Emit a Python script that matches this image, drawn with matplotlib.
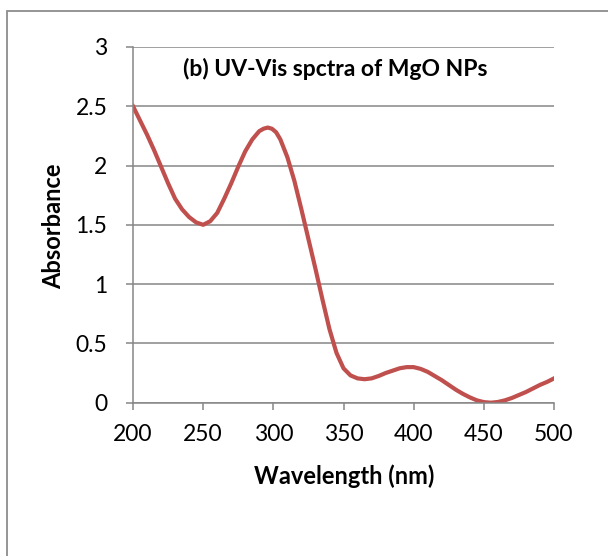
import matplotlib.pyplot as plt
from matplotlib.patches import Rectangle

# absorbance spectrum
wavelength = [200, 205, 210, 215, 220, 225, 230, 235, 240, 245, 250, 255, 260,
              265, 270, 275, 280, 285, 290, 293, 296, 299, 302, 305, 310, 315,
              320, 325, 330, 335, 340, 345, 350, 355, 360, 365, 370, 375, 380,
              385, 390, 395, 400, 405, 410, 415, 420, 425, 430, 435, 440, 445,
              450, 455, 460, 465, 470, 475, 480, 485, 490, 495, 500]
absorbance = [2.50, 2.38, 2.26, 2.13, 1.99, 1.85, 1.72, 1.63, 1.565, 1.52, 1.50,
              1.53, 1.60, 1.72, 1.85, 1.99, 2.12, 2.22, 2.29, 2.31, 2.32, 2.31,
              2.28, 2.22, 2.07, 1.87, 1.63, 1.38, 1.13, 0.87, 0.62, 0.42, 0.29,
              0.23, 0.205, 0.198, 0.205, 0.225, 0.25, 0.27, 0.29, 0.30, 0.30,
              0.285, 0.26, 0.225, 0.19, 0.15, 0.11, 0.075, 0.045, 0.02, 0.005,
              0.0, 0.006, 0.02, 0.04, 0.065, 0.09, 0.12, 0.15, 0.175, 0.205]

xticks = [200, 250, 300, 350, 400, 450, 500]
yticks = [0, 0.5, 1, 1.5, 2, 2.5, 3]
ytick_labels = ["0", "0.5", "1", "1.5", "2", "2.5", "3"]

plt.rcParams['font.family'] = ['Lato', 'DejaVu Sans']
grey = "#868686"

fig = plt.figure(figsize=(6.08, 5.56), dpi=100)
ax = fig.add_axes([133/608, 153.3/556, 421/608, 355.8/556])

ax.plot(wavelength, absorbance, color="#C0504D", lw=3, solid_joinstyle="round")

ax.set_xlim(200, 500)
ax.set_ylim(0, 3)
ax.set_xticks(xticks)
ax.set_yticks(yticks)
ax.set_yticklabels(ytick_labels)
ax.grid(axis="y", color=grey, lw=1.1)
ax.set_axisbelow(True)
for s in ["top", "right"]:
    ax.spines[s].set_visible(False)
for s in ["left", "bottom"]:
    ax.spines[s].set_color(grey)
    ax.spines[s].set_linewidth(1.1)
ax.tick_params(colors=grey, labelcolor="black", labelsize=16.5, length=5,
               width=1.1)
ax.tick_params(axis="x", pad=10)
ax.tick_params(axis="y", pad=13.5)

fig.text(344/608, 1 - 476/556, "Wavelength (nm)", ha="center", va="center",
         fontsize=17, fontweight="bold")
fig.text(53.5/608, 1 - 226/556, "Absorbance", ha="center", va="center",
         rotation=90, fontsize=17, fontweight="bold")
fig.text(335.5/608, 1 - 69/556, "(b) UV-Vis spctra of MgO NPs", ha="center",
         va="center", fontsize=16.5, fontweight="bold")

# outer chart frame, right and bottom edges fall outside the picture
fig.add_artist(Rectangle((7/608, -0.1), 1.2, 1.1 - 11/556, transform=fig.transFigure,
                         fill=False, edgecolor="#8c8c8c", lw=1.3))

fig.savefig("out.png", dpi=100)
